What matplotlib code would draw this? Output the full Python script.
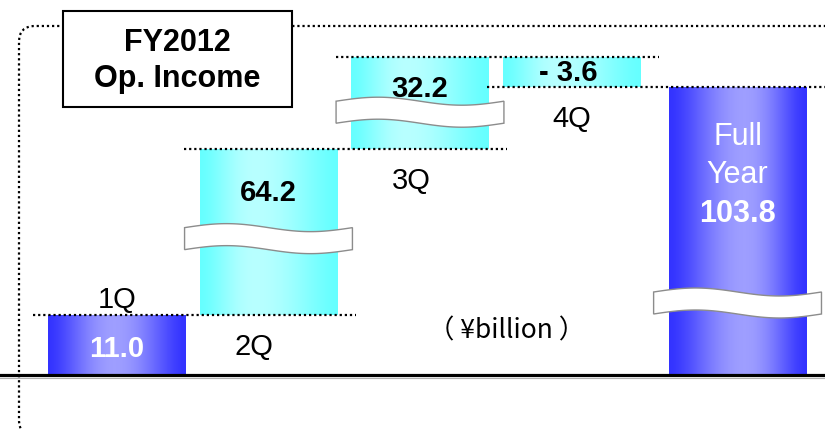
import numpy as np
import matplotlib.pyplot as plt
import matplotlib.transforms as mtransforms
from matplotlib.patches import FancyBboxPatch, Polygon, Rectangle

plt.rcParams['font.family'] = ['Liberation Sans', 'DejaVu Sans']

quarters = ['1Q', '2Q', '3Q', '4Q']
q_values = [11.0, 64.2, 32.2, -3.6]
q_labels = ['11.0', '64.2', '32.2', '- 3.6']
full_year = 103.8
full_label = '103.8'

# broken value axis: value -> pixel height above the base line
scale_vals = [-10, 0, 11.0, 75.2, 103.8, 107.4, 130]
scale_px = [-55, 0, 60, 226, 288, 318, 376]

# where the wavy break sits on each bar (fraction of drawn height), None = no break
q_breaks = [None, 0.46, 0.40, None]
full_break = 0.25

W, H = 825, 431
DPI = 100


def px(n):
    # pixels -> points
    return n * 72 / DPI


def fwd(v):
    return np.interp(v, scale_vals, scale_px)


def inv(p):
    return np.interp(p, scale_px, scale_vals)


fig = plt.figure(figsize=(W / DPI, H / DPI), dpi=DPI)
ax = fig.add_axes([0, 0, 1, 1])
ax.set_yscale('function', functions=(fwd, inv))
step = 151.5
ax.set_xlim(-117 / step, (W - 117) / step)
ax.set_ylim(-10, 130)
ax.set_axis_off()
ax.set_autoscale_on(False)

x = np.arange(len(quarters), dtype=float)
x_full = 4.096
width = 0.91
ends = np.cumsum(q_values)
bottoms = ends - np.array(q_values)

blue_edge = np.array([0.20, 0.20, 1.0])
blue_mid = np.array([0.62, 0.62, 1.0])
cyan_edge = np.array([0.40, 1.0, 1.0])
cyan_mid = np.array([0.72, 1.0, 1.0])


def gradient(c_edge, c_mid, peak=0.5):
    t = np.linspace(0, 1, 200)
    d = np.where(t < peak, (peak - t) / peak, (t - peak) / (1 - peak))
    w = np.cos(d * np.pi / 2) ** 1.5
    return (c_edge[None, :] + (c_mid - c_edge)[None, :] * w[:, None])[None, :, :]


def data_to_axes(xv, yv):
    return ax.transAxes.inverted().transform(ax.transData.transform((xv, yv)))


def fill_bar(bar, grad):
    bar.set_facecolor('none')
    bar.set_edgecolor('none')
    x0 = data_to_axes(bar.get_x(), 0)[0]
    x1 = data_to_axes(bar.get_x() + bar.get_width(), 0)[0]
    im = ax.imshow(grad, extent=(x0, x1, 0, 1), transform=ax.transAxes,
                   aspect='auto', interpolation='bilinear', zorder=1)
    im.set_clip_path(bar)


blend = mtransforms.blended_transform_factory(ax.transData, ax.transAxes)


def wavy_break(xc, y0, y1, frac):
    yv = inv(fwd(y0) + frac * (fwd(y1) - fwd(y0)))
    yc = data_to_axes(xc, yv)[1]
    half = 11 / H
    amp = 4 / H
    ext = width / 2 + 15 / step
    t = np.linspace(0, 1, 60)
    xs = xc - ext + 2 * ext * t
    wave = amp * np.sin(2 * np.pi * t)
    top = np.column_stack([xs, yc + half + wave])
    bot = np.column_stack([xs[::-1], (yc - half + wave)[::-1]])
    ax.add_patch(Polygon(np.vstack([top, bot]), closed=True, transform=blend,
                         facecolor='white', edgecolor='#8c8c8c', lw=1.0, zorder=3))


# quarter bars
bars = ax.bar(x, q_values, bottom=bottoms, width=width)
for i, bar in enumerate(bars):
    if i == 0:
        fill_bar(bar, gradient(blue_edge, blue_mid, 0.48))
    else:
        fill_bar(bar, gradient(cyan_edge, cyan_mid, 0.40))
    if q_breaks[i] is not None:
        wavy_break(x[i], bottoms[i], ends[i], q_breaks[i])

# full year bar
fbar = ax.bar([x_full], [full_year], width=width)[0]
fill_bar(fbar, gradient(blue_edge, blue_mid, 0.55))
wavy_break(x_full, 0, full_year, full_break)

# dotted connectors between consecutive levels
dot = dict(color='black', lw=1.6, ls=(0, (1, 1.3)), zorder=2)
right_x = list(x[1:]) + [x_full]
for i in range(len(quarters)):
    ax.plot([x[i] - width / 2 - 0.1, right_x[i] + width / 2 + 0.12],
            [ends[i], ends[i]], **dot)

# base line with a faint shadow
ax.axhline(0, color='black', lw=2.3, zorder=4)
ax.plot([0, 1], [(55 - 2.5) / H] * 2, transform=ax.transAxes,
        color='#b0b0b0', lw=0.8, zorder=4)

# value labels
vfont = dict(fontsize=21, fontweight='bold', ha='center', va='center', zorder=5)
for i in range(len(quarters)):
    top = max(bottoms[i], ends[i])
    if i == 0:
        ax.text(x[i], inv(fwd(ends[i]) / 2 - 3), q_labels[i], color='white', **vfont)
    elif q_values[i] < 0:
        ax.annotate(q_labels[i], (x[i] - 0.02, top), xytext=(0, -px(15)),
                    textcoords='offset points', color='black', **vfont)
    else:
        off = 43 if i == 1 else 31
        ax.annotate(q_labels[i], (x[i], top), xytext=(0, -px(off)),
                    textcoords='offset points', color='black', **vfont)

# quarter names
qfont = dict(fontsize=21, ha='center', va='center', zorder=5)
q_shift = [0, -15, -9, 0]
for i, q in enumerate(quarters):
    if i == 0:
        ax.annotate(q, (x[i], ends[i]), xytext=(0, px(16)),
                    textcoords='offset points', **qfont)
    else:
        low = min(bottoms[i], ends[i])
        ax.annotate(q, (x[i], low), xytext=(px(q_shift[i]), -px(31)),
                    textcoords='offset points', **qfont)

# full year text
for txt, off, fw in [('Full', 49, 'normal'), ('Year', 87, 'normal'),
                     (full_label, 126, 'bold')]:
    ax.annotate(txt, (x_full, full_year), xytext=(0, -px(off)),
                textcoords='offset points', color='white', fontsize=22,
                fontweight=fw, ha='center', va='center', zorder=5)

ax.text(507 / W, (H - 331) / H, '（ ¥billion ）', transform=ax.transAxes,
        fontsize=19, ha='center', va='center', family=['Noto Sans CJK JP'])

# dotted rounded frame, running off the right and bottom edges
frame = FancyBboxPatch((19, -6), 840, (H - 27) + 6,
                       boxstyle='round,pad=0,rounding_size=16',
                       transform=mtransforms.IdentityTransform(),
                       facecolor='none', edgecolor='black', lw=1.6,
                       ls=(0, (1, 1.3)), zorder=0)
fig.patches.append(frame)

# title box
tb = Rectangle((63 / W, (H - 108) / H), 229 / W, 96 / H, transform=fig.transFigure,
               facecolor='white', edgecolor='black', lw=1.5, zorder=6)
fig.patches.append(tb)
fig.text(177 / W, (H - 61) / H, 'FY2012\nOp. Income', ha='center', va='center',
         fontsize=22, fontweight='bold', linespacing=1.28, zorder=7)

fig.savefig('out.png', dpi=DPI)
